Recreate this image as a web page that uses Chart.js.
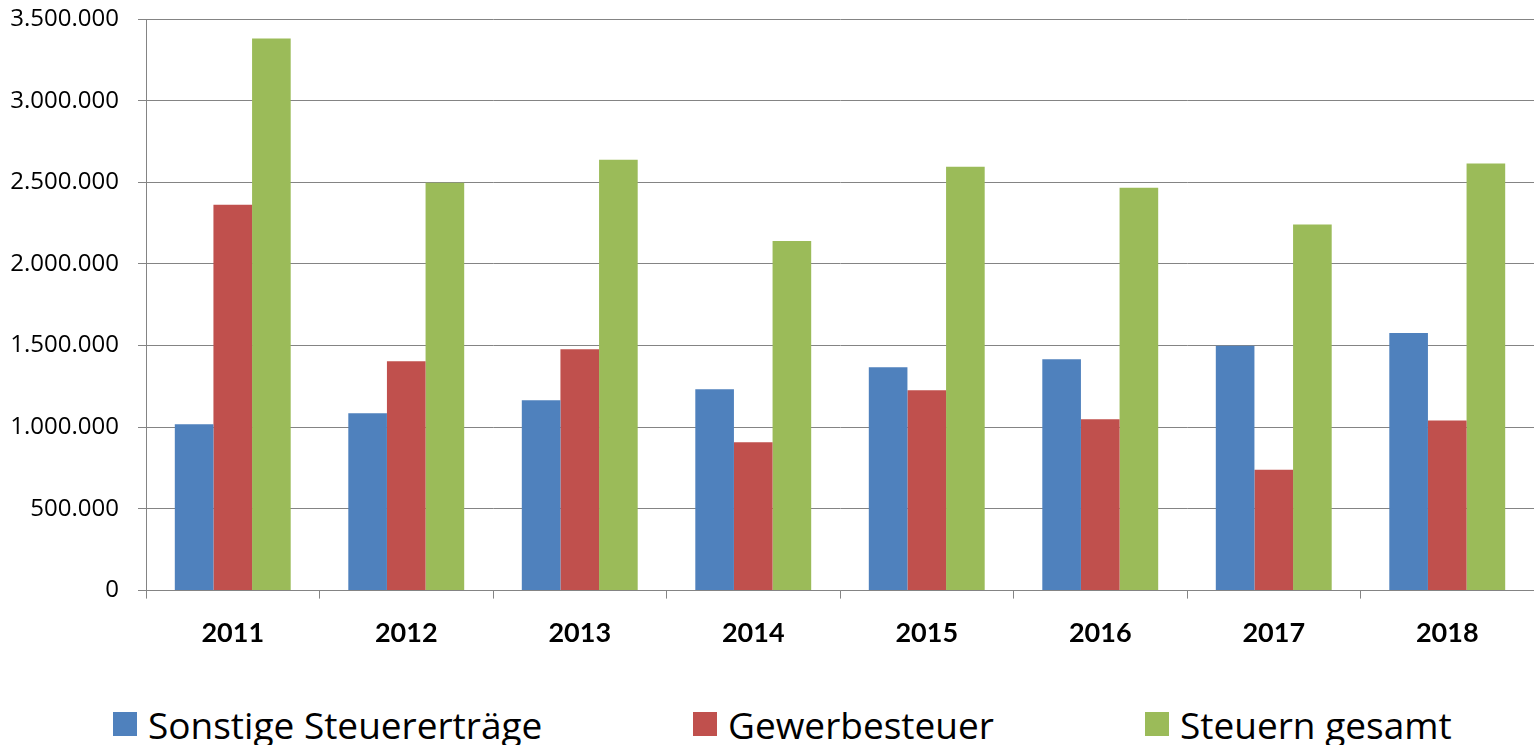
<!DOCTYPE html>
<html>
<head>
<meta charset="utf-8">
<script src="https://cdn.jsdelivr.net/npm/chart.js@4/dist/chart.umd.min.js"></script>
<style>
  body { margin: 0; background: #fff; }
  #wrap { position: relative; width: 1534px; height: 745px; overflow: hidden; }
  #legend { position: absolute; left: 0; top: 700px; width: 1534px; height: 48px; font-family: "Open Sans", sans-serif; font-size: 37px; color: #000; }
  .item { position: absolute; top: 0; height: 48px; display: flex; align-items: center; white-space: nowrap; }
  .box { width: 24px; height: 24px; margin-right: 11px; }
</style>
</head>
<body>
<div id="wrap">
  <canvas id="chart" width="1534" height="667"></canvas>
  <div id="legend"></div>
</div>
<script>
const years = ['2011', '2012', '2013', '2014', '2015', '2016', '2017', '2018'];
const sonstige = [1018000, 1086000, 1166000, 1233000, 1368000, 1417000, 1500000, 1578000];
const gewerbe = [2362000, 1405000, 1478000, 908000, 1227000, 1049000, 740000, 1041000];
const gesamt = [3380000, 2497000, 2638000, 2141000, 2595000, 2466000, 2241000, 2615000];
const seriesNames = ['Sonstige Steuererträge', 'Gewerbesteuer', 'Steuern gesamt'];
const seriesColors = ['#4F81BD', '#C0504D', '#9BBB59'];

// x position of each legend entry (Excel style spacing)
const legendLeft = [113, 693, 1145];

function fmt(v) {
  return String(v).replace(/\B(?=(\d{3})+(?!\d))/g, '.');
}

const gridColor = '#848484';

const ctx = document.getElementById('chart').getContext('2d');

const chart = new Chart(ctx, {
  type: 'bar',
  data: {
    labels: years,
    datasets: [sonstige, gewerbe, gesamt].map((d, i) => ({
      label: seriesNames[i],
      data: d,
      backgroundColor: seriesColors[i],
      borderWidth: 0,
      categoryPercentage: 0.668,
      barPercentage: 1.0
    }))
  },
  options: {
    responsive: false,
    animation: false,
    layout: { padding: { top: 0, right: 0, bottom: 0, left: 0 } },
    scales: {
      x: {
        grid: {
          offset: true,
          drawOnChartArea: false,
          tickLength: 8,
          color: gridColor,
          lineWidth: 1
        },
        border: { color: gridColor, width: 1 },
        ticks: {
          padding: 18,
          color: '#000',
          font: { family: 'Lato', size: 27, weight: 'bold' }
        }
      },
      y: {
        min: 0,
        max: 3500000,
        afterFit: function(scale) {
          scale.width = 146;
          scale.paddingTop = 19;
          scale.paddingBottom = 0;
        },
        grid: {
          color: gridColor,
          lineWidth: 1,
          tickLength: 8
        },
        border: { color: gridColor, width: 1 },
        ticks: {
          stepSize: 500000,
          padding: 19,
          color: '#000',
          font: { family: 'Open Sans', size: 24 },
          callback: v => fmt(v)
        }
      }
    },
    plugins: {
      legend: { display: false },
      tooltip: { enabled: false }
    }
  }
});

// legend below the chart, built from the datasets
const legendEl = document.getElementById('legend');
chart.data.datasets.forEach((ds, i) => {
  const item = document.createElement('div');
  item.className = 'item';
  item.style.left = legendLeft[i] + 'px';
  const box = document.createElement('span');
  box.className = 'box';
  box.style.background = ds.backgroundColor;
  const txt = document.createElement('span');
  txt.textContent = ds.label;
  item.appendChild(box);
  item.appendChild(txt);
  legendEl.appendChild(item);
});
</script>
</body>
</html>
